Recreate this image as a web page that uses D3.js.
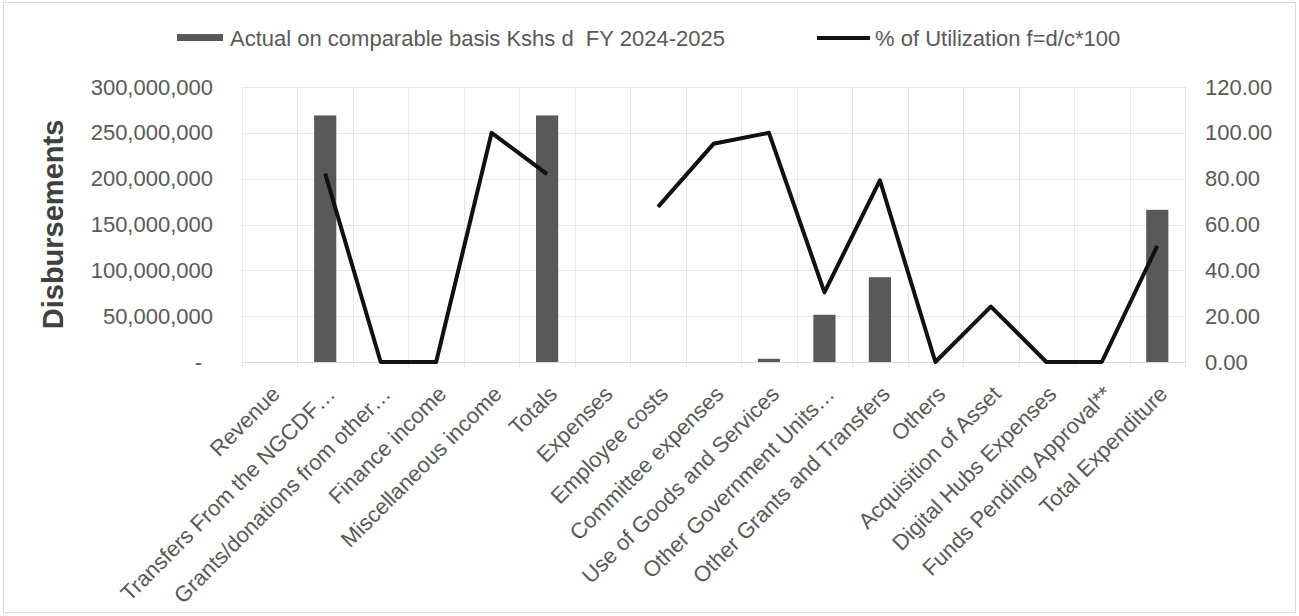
<!DOCTYPE html>
<html lang="en">
<head>
    <meta charset="UTF-8">
    <title>Disbursements</title>
    <script src="https://cdn.jsdelivr.net/npm/d3@7/dist/d3.min.js"></script>
    <style>
        body { margin: 0; background: #fff; }
        text { font-family: "Liberation Sans", Arial, sans-serif; }
    </style>
</head>
<body>
    <svg width="1299" height="616" id="mainsvg"></svg>
    <script>
        // data
        const categories = ['Revenue', 'Transfers From the NGCDF\u2026', 'Grants/donations from other\u2026',
            'Finance income', 'Miscellaneous income', 'Totals', 'Expenses', 'Employee costs',
            'Committee expenses', 'Use of Goods and Services', 'Other Government Units\u2026',
            'Other Grants and Transfers', 'Others', 'Acquisition of Asset', 'Digital Hubs Expenses',
            'Funds Pending Approval**', 'Total Expenditure'];
        const actual = [0, 269000000, 0, 0, 0, 269000000, 0, 0, 0, 3500000, 51500000, 92500000,
            0, 0, 0, 0, 166000000];
        const utilization = [null, 82.2, 0, 0, 100, 82.0, null, 67.7, 95.2, 100, 30.4, 79.3,
            0, 24.2, 0, 0, 50.7];
        const leftTicks = [0, 50000000, 100000000, 150000000, 200000000, 250000000, 300000000];
        const rightTicks = [0, 20, 40, 60, 80, 100, 120];
        const barName = 'Actual on comparable basis Kshs d\u00a0 FY 2024-2025';
        const lineName = '% of Utilization f=d/c*100';

        const svg = d3.select('svg');
        const width = +svg.attr('width');
        const height = +svg.attr('height');
        const margin = {top: 87, right: 114, bottom: 254, left: 242};
        const innerWidth = width - margin.left - margin.right;
        const innerHeight = height - margin.top - margin.bottom;
        const textColor = '#595959';

        // outer frame of the chart
        svg.append('rect').attr('x', 3.5).attr('y', 2.5).attr('width', width - 7).attr('height', height - 6)
            .attr('fill', 'none').attr('stroke', '#d9d9d9');

        const mainGroup = svg.append('g')
            .attr('transform', `translate(${margin.left}, ${margin.top})`);

        const cellScale = d3.scaleBand().domain(categories).range([0, innerWidth]);
        const xScale = d3.scaleBand().domain(categories).range([0, innerWidth])
            .paddingInner(0.6).paddingOuter(0.3);
        const yLeft = d3.scaleLinear().domain([0, 300000000]).range([innerHeight, 0]);
        const yRight = d3.scaleLinear().domain([0, 120]).range([innerHeight, 0]);

        // grid
        const grid = mainGroup.append('g').attr('stroke', '#e6e6ee').attr('stroke-width', 1);
        grid.selectAll('.hgrid').data(leftTicks).join('line').attr('class', 'hgrid')
            .attr('x1', 0).attr('x2', innerWidth)
            .attr('y1', d => Math.round(yLeft(d)) + 0.5).attr('y2', d => Math.round(yLeft(d)) + 0.5);
        const bounds = categories.map(c => cellScale(c)).concat([innerWidth]);
        grid.selectAll('.vgrid').data(bounds).join('line').attr('class', 'vgrid')
            .attr('x1', d => Math.round(d) + 0.5).attr('x2', d => Math.round(d) + 0.5)
            .attr('y1', 0).attr('y2', innerHeight + 5);

        // axes
        const fmtLeft = d => d === 0 ? '-' : d3.format(',')(d);
        const yAxisLeft = d3.axisLeft(yLeft).tickValues(leftTicks).tickFormat(fmtLeft).tickSize(0).tickPadding(29);
        const yAxisRight = d3.axisRight(yRight).tickValues(rightTicks).tickFormat(d3.format('.2f')).tickSize(0).tickPadding(20);
        const xAxis = d3.axisBottom(cellScale).tickSize(0);

        const leftGroup = mainGroup.append('g').call(yAxisLeft);
        const rightGroup = mainGroup.append('g').attr('transform', `translate(${innerWidth}, 0)`).call(yAxisRight);
        const xGroup = mainGroup.append('g').attr('transform', `translate(0, ${innerHeight})`).call(xAxis);
        leftGroup.select('.domain').remove();
        rightGroup.select('.domain').remove();
        xGroup.select('.domain').attr('stroke', '#d9d9d9');

        leftGroup.selectAll('.tick text').attr('font-size', 22).attr('fill', textColor)
            .attr('dx', d => d === 0 ? -11 : 0);
        rightGroup.selectAll('.tick text').attr('font-size', 22).attr('fill', textColor);
        xGroup.selectAll('.tick text').attr('font-size', 22).attr('fill', textColor)
            .attr('text-anchor', 'end').attr('y', 0).attr('dy', '0.35em')
            .attr('transform', 'translate(6, 28) rotate(-45)');

        // axis title
        svg.append('text').text('Disbursements')
            .attr('transform', `translate(63, ${margin.top + innerHeight / 2}) rotate(-90)`)
            .attr('text-anchor', 'middle').attr('font-size', 29).attr('font-weight', 'bold')
            .attr('fill', '#404040');

        // bars
        mainGroup.selectAll('.bar').data(categories).join('rect').attr('class', 'bar')
            .attr('x', d => xScale(d))
            .attr('width', xScale.bandwidth())
            .attr('y', (d, i) => yLeft(actual[i]))
            .attr('height', (d, i) => innerHeight - yLeft(actual[i]))
            .attr('fill', '#595959');

        // line
        const line = d3.line()
            .defined(d => d[1] !== null)
            .x(d => cellScale(d[0]) + cellScale.bandwidth() / 2)
            .y(d => yRight(d[1]));
        mainGroup.append('path')
            .datum(categories.map((c, i) => [c, utilization[i]]))
            .attr('d', line)
            .attr('fill', 'none').attr('stroke', '#111').attr('stroke-width', 4)
            .attr('stroke-linejoin', 'round');

        // legend
        const legend = svg.append('g');
        legend.append('rect').attr('x', 177).attr('y', 34).attr('width', 46).attr('height', 7).attr('fill', '#595959');
        legend.append('text').text(barName).attr('x', 230).attr('y', 38).attr('dy', '0.35em')
            .attr('font-size', 22).attr('fill', textColor);
        legend.append('line').attr('x1', 817).attr('x2', 870).attr('y1', 38).attr('y2', 38)
            .attr('stroke', '#111').attr('stroke-width', 4);
        legend.append('text').text(lineName).attr('x', 875).attr('y', 38).attr('dy', '0.35em')
            .attr('font-size', 22).attr('fill', textColor);
    </script>
</body>
</html>
